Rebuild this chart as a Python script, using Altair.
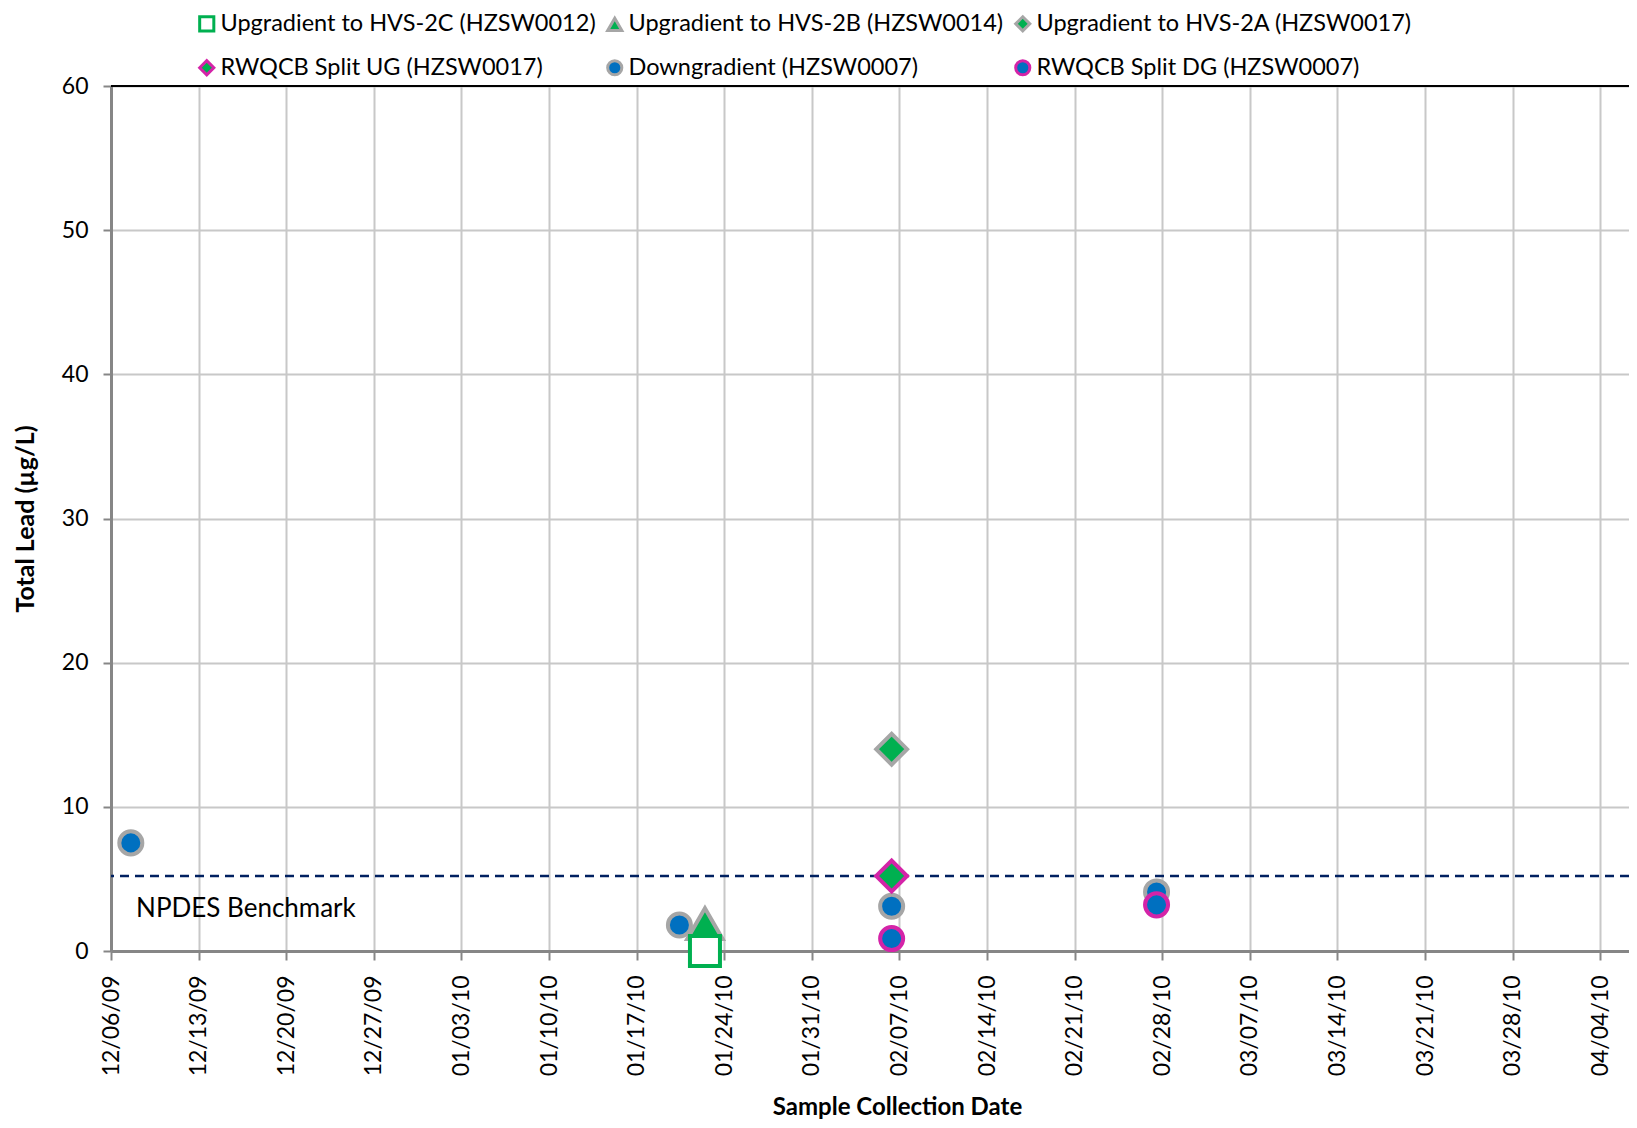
import altair as alt
import pandas as pd

# ---- data ----
series_names = [
    "Upgradient to HVS-2C (HZSW0012)",
    "Upgradient to HVS-2B (HZSW0014)",
    "Upgradient to HVS-2A (HZSW0017)",
    "RWQCB Split UG (HZSW0017)",
    "Downgradient (HZSW0007)",
    "RWQCB Split DG (HZSW0007)",
]
point_series = [
    "Downgradient (HZSW0007)",
    "Downgradient (HZSW0007)",
    "Upgradient to HVS-2B (HZSW0014)",
    "Upgradient to HVS-2C (HZSW0012)",
    "Upgradient to HVS-2A (HZSW0017)",
    "RWQCB Split UG (HZSW0017)",
    "Downgradient (HZSW0007)",
    "RWQCB Split DG (HZSW0007)",
    "Downgradient (HZSW0007)",
    "RWQCB Split DG (HZSW0007)",
]
point_dates = [
    "2009-12-07T14:00:00",
    "2010-01-20T10:00:00",
    "2010-01-22T11:00:00",
    "2010-01-22T11:00:00",
    "2010-02-06T09:00:00",
    "2010-02-06T09:00:00",
    "2010-02-06T09:00:00",
    "2010-02-06T09:00:00",
    "2010-02-27T13:00:00",
    "2010-02-27T13:00:00",
]
point_values = [7.5, 1.8, 1.9, 0.0, 14.0, 5.2, 3.1, 0.86, 4.1, 3.2]

benchmark_value = [5.2]
benchmark_label = ["NPDES Benchmark"]
benchmark_label_date = ["2009-12-08T00:00:00"]
benchmark_label_value = [2.9]

week_ticks = [
    (2009, 12, 6), (2009, 12, 13), (2009, 12, 20), (2009, 12, 27),
    (2010, 1, 3), (2010, 1, 10), (2010, 1, 17), (2010, 1, 24), (2010, 1, 31),
    (2010, 2, 7), (2010, 2, 14), (2010, 2, 21), (2010, 2, 28),
    (2010, 3, 7), (2010, 3, 14), (2010, 3, 21), (2010, 3, 28), (2010, 4, 4),
]
y_ticks = [0, 10, 20, 30, 40, 50, 60]

# ---- styles ----
GREEN = "#00B050"
BLUE = "#0070C0"
GRAY = "#A6A6A6"
MAGENTA = "#D424A8"
shapes = ["square", "triangle-up", "diamond", "diamond", "circle", "circle"]
fills = ["#FFFFFF", GREEN, GREEN, GREEN, BLUE, BLUE]
strokes = [GREEN, GRAY, GRAY, MAGENTA, GRAY, MAGENTA]
# marker size per shape group (drawn as separate layers so the legend keeps one size)
groups = [
    (["Downgradient (HZSW0007)"], 530),
    (["Upgradient to HVS-2B (HZSW0014)"], 1250),
    (["Upgradient to HVS-2C (HZSW0012)"], 900),
    (["Upgradient to HVS-2A (HZSW0017)", "RWQCB Split UG (HZSW0017)"], 950),
    (["RWQCB Split DG (HZSW0007)"], 530),
]

FONT = "Lato"

df = pd.DataFrame({"date": point_dates, "value": point_values, "series": point_series})

x_scale = alt.Scale(
    domain=[alt.DateTime(year=2009, month=12, date=6),
            alt.DateTime(year=2010, month=4, date=6, hours=7)],
    nice=False,
)
y_scale = alt.Scale(domain=[0, 60], nice=False)

legend = alt.Legend(
    title=None, orient="none", legendX=84, legendY=-74, columns=3,
    direction="horizontal", labelFont=FONT, labelFontSize=23.5, labelColor="black",
    symbolSize=200, symbolStrokeWidth=3, columnPadding=5, rowPadding=17,
    labelOffset=2, labelLimit=600,
)

x_axis = alt.Axis(
    values=[alt.DateTime(year=y, month=m, date=d) for (y, m, d) in week_ticks],
    format="%m/%d/%y", labelAngle=270, labelFont=FONT, labelFontSize=23,
    labelColor="black", labelPadding=15, tickSize=9, tickColor="#868686", tickWidth=2,
    domainColor="#868686", domainWidth=3, grid=True, gridColor="#C8C8C8", gridWidth=2,
    title="Sample Collection Date", titleFont=FONT, titleFontSize=24,
    titleFontWeight="bold", titleColor="black", titleX=786, titleY=156,
    titleBaseline="middle", titleAnchor="middle", labelOverlap=False,
)
y_axis = alt.Axis(
    values=y_ticks, labelFont=FONT, labelFontSize=23, labelColor="black",
    labelPadding=15, tickSize=8, tickColor="#868686", tickWidth=2,
    domainColor="#868686", domainWidth=3, grid=True, gridColor="#C8C8C8", gridWidth=2,
    title="Total Lead (µg/L)", titleFont=FONT, titleFontSize=25,
    titleFontWeight="bold", titleColor="black", titleX=-86, titleBaseline="middle",
)

enc = dict(
    x=alt.X("date:T", scale=x_scale, axis=x_axis),
    y=alt.Y("value:Q", scale=y_scale, axis=y_axis),
    shape=alt.Shape("series:N", scale=alt.Scale(domain=series_names, range=shapes), legend=legend),
    fill=alt.Fill("series:N", scale=alt.Scale(domain=series_names, range=fills), legend=legend),
    stroke=alt.Stroke("series:N", scale=alt.Scale(domain=series_names, range=strokes), legend=legend),
)

point_layers = []
for names, sz in groups:
    point_layers.append(
        alt.Chart(df)
        .transform_filter(alt.FieldOneOfPredicate(field="series", oneOf=names))
        .mark_point(filled=True, strokeWidth=4, opacity=1, fillOpacity=1, size=sz)
        .encode(**enc)
    )

bench = alt.Chart(pd.DataFrame({"b": benchmark_value})).mark_rule(
    color="#002060", strokeDash=[9, 6], strokeWidth=2.5
).encode(y=alt.Y("b:Q", scale=y_scale))

top_border = alt.Chart(pd.DataFrame({"t": [y_ticks[-1]]})).mark_rule(
    color="black", strokeWidth=2
).encode(y=alt.Y("t:Q", scale=y_scale))

bench_text = alt.Chart(pd.DataFrame({
    "date": benchmark_label_date, "value": benchmark_label_value, "label": benchmark_label
})).mark_text(align="left", baseline="middle", font=FONT, fontSize=26, color="black").encode(
    x=alt.X("date:T", scale=x_scale),
    y=alt.Y("value:Q", scale=y_scale),
    text="label:N",
)

chart = alt.layer(bench, top_border, bench_text, *point_layers).properties(
    width=1518, height=865,
    autosize=alt.AutoSizeParams(type="none"),
    padding={"left": 103, "top": 78, "right": 0, "bottom": 169},
).configure_view(stroke=None).configure(background="white")

chart.save("out.html", embed_options={"renderer": "svg", "actions": False})
